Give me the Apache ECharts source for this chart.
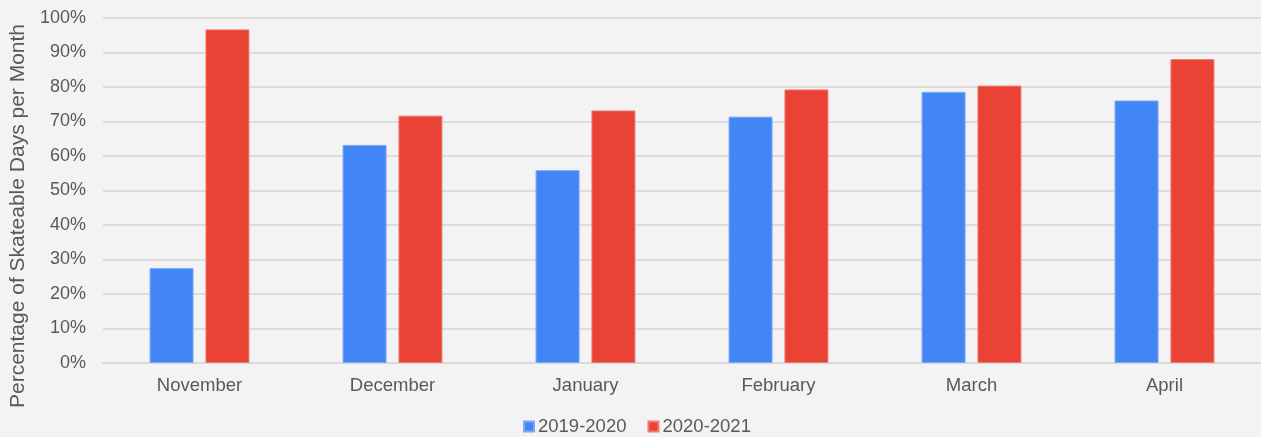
<!DOCTYPE html>
<html>
<head>
<meta charset="utf-8">
<script src="https://cdn.jsdelivr.net/npm/echarts@6/dist/echarts.min.js"></script>
<style>
html,body{margin:0;padding:0;background:#f3f3f3;}
#c{width:1261px;height:437px;}
</style>
</head>
<body>
<div id="c"></div>
<script>
var categories = ['November','December','January','February','March','April'];
var series2019 = [27.5, 63.2, 55.9, 71.4, 78.6, 76.1];
var series2020 = [96.7, 71.7, 73.2, 79.3, 80.4, 88.1];
var seriesNames = ['2019-2020','2020-2021'];
var yAxisTitle = 'Percentage of Skateable Days per Month';

var chart = echarts.init(document.getElementById('c'));
var font = 'Liberation Sans, Arial, sans-serif';
chart.setOption({
  backgroundColor: '#f3f3f3',
  animation: false,
  textStyle: {fontFamily: font},
  grid: {left: 103, right: 0, top: 18, bottom: 74, containLabel: false, outerBoundsMode: 'none'},
  legend: {
    data: seriesNames,
    top: 412,
    left: 518,
    icon: 'rect',
    itemWidth: 10,
    itemHeight: 10,
    itemGap: 21,
    textStyle: {color: '#595959', fontSize: 18.5, fontFamily: font, padding: [0,0,0,-1]}
  },
  xAxis: {
    type: 'category',
    data: categories,
    axisTick: {show: false},
    axisLine: {lineStyle: {color: '#d9d9d9', width: 2}},
    axisLabel: {color: '#595959', fontSize: 18.5, margin: 13, fontFamily: font}
  },
  yAxis: {
    type: 'value',
    min: 0, max: 100, interval: 10,
    name: yAxisTitle,
    nameLocation: 'middle',
    nameGap: 66,
    nameTextStyle: {color: '#595959', fontSize: 21, fontFamily: font, padding: [0, 51, 0, 0]},
    axisLine: {show: false},
    axisTick: {show: false},
    splitLine: {lineStyle: {color: '#dcdcdc', width: 2}},
    axisLabel: {color: '#595959', fontSize: 18, margin: 17, formatter: '{value}%', fontFamily: font}
  },
  series: [
    {name: seriesNames[0], type: 'bar', data: series2019, barWidth: 44, barGap: '27%',
     itemStyle: {color: '#4285f4', borderColor: '#7aa9f7', borderWidth: 1}},
    {name: seriesNames[1], type: 'bar', data: series2020, barWidth: 44,
     itemStyle: {color: '#ea4335', borderColor: '#f07b70', borderWidth: 1}}
  ]
});
</script>
</body>
</html>
